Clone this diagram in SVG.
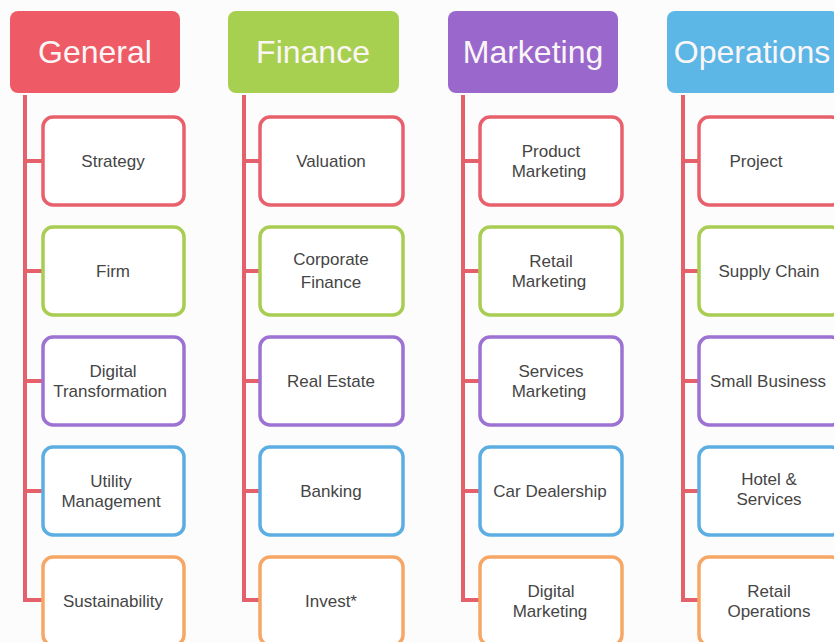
<svg xmlns="http://www.w3.org/2000/svg" width="834" height="642" viewBox="0 0 834 642">
<style>
.hdr{font-family:"Liberation Sans",Arial,sans-serif;font-size:32px;fill:#fbf6f6;text-anchor:middle}
.lbl{font-family:"Liberation Sans",Arial,sans-serif;font-size:17px;fill:#454545;text-anchor:middle}
.box{fill:#fff;stroke-width:3.5}
.r{stroke:#e8606c}.g{stroke:#a9cd52}.p{stroke:#9c72d2}.b{stroke:#5caee2}.o{stroke:#f6a765}
.link{fill:none;stroke:#e4606b;stroke-width:4}
</style>
<rect width="834" height="642" fill="#fcfcfc"/>
<g id="connectors">
<path class="link" d="M25 95V600H43M25 161H43M25 271H43M25 381H43M25 491H43"/>
<path class="link" d="M244 95V600H259M244 161H259M244 271H259M244 381H259M244 491H259"/>
<path class="link" d="M463 95V600H480M463 161H480M463 271H480M463 381H480M463 491H480"/>
<path class="link" d="M683 95V600H698M683 161H698M683 271H698M683 381H698M683 491H698"/>
</g>
<g id="general"><rect x="10" y="11" width="170" height="82" rx="8" fill="#ee5b66"/><text class="hdr" x="95" y="63">General</text></g>
<g id="finance"><rect x="228" y="11" width="171" height="82" rx="8" fill="#a8d050"/><text class="hdr" x="313" y="63">Finance</text></g>
<g id="marketing"><rect x="448" y="11" width="170" height="82" rx="8" fill="#9a68cc"/><text class="hdr" x="533" y="63">Marketing</text></g>
<g id="operations"><rect x="667" y="11" width="172" height="82" rx="8" fill="#5cb6e6"/><text class="hdr" x="752" y="63">Operations</text></g>

<g id="strategy"><rect class="box r" x="43" y="117" width="141" height="88" rx="10"/><text class="lbl" x="113" y="167">Strategy</text></g>
<g id="firm"><rect class="box g" x="43" y="227" width="141" height="88" rx="10"/><text class="lbl" x="113" y="277">Firm</text></g>
<g id="digital-transformation"><rect class="box p" x="43" y="337" width="141" height="88" rx="10"/><text class="lbl" x="113" y="377">Digital</text><text class="lbl" x="110" y="397">Transformation</text></g>
<g id="utility-management"><rect class="box b" x="43" y="447" width="141" height="88" rx="10"/><text class="lbl" x="111" y="487">Utility</text><text class="lbl" x="111" y="507">Management</text></g>
<g id="sustainability"><rect class="box o" x="43" y="557" width="141" height="88" rx="10"/><text class="lbl" x="113" y="607">Sustainability</text></g>

<g id="valuation"><rect class="box r" x="260" y="117" width="143" height="88" rx="10"/><text class="lbl" x="331" y="167">Valuation</text></g>
<g id="corporate-finance"><rect class="box g" x="260" y="227" width="143" height="88" rx="10"/><text class="lbl" x="331" y="265">Corporate</text><text class="lbl" x="331" y="288">Finance</text></g>
<g id="real-estate"><rect class="box p" x="260" y="337" width="143" height="88" rx="10"/><text class="lbl" x="331" y="387">Real Estate</text></g>
<g id="banking"><rect class="box b" x="260" y="447" width="143" height="88" rx="10"/><text class="lbl" x="331" y="497">Banking</text></g>
<g id="invest"><rect class="box o" x="260" y="557" width="143" height="88" rx="10"/><text class="lbl" x="331" y="607">Invest*</text></g>

<g id="product-marketing"><rect class="box r" x="480" y="117" width="142" height="88" rx="10"/><text class="lbl" x="551" y="157">Product</text><text class="lbl" x="549" y="177">Marketing</text></g>
<g id="retail-marketing"><rect class="box g" x="480" y="227" width="142" height="88" rx="10"/><text class="lbl" x="551" y="267">Retail</text><text class="lbl" x="549" y="287">Marketing</text></g>
<g id="services-marketing"><rect class="box p" x="480" y="337" width="142" height="88" rx="10"/><text class="lbl" x="551" y="377">Services</text><text class="lbl" x="549" y="397">Marketing</text></g>
<g id="car-dealership"><rect class="box b" x="480" y="447" width="142" height="88" rx="10"/><text class="lbl" x="550" y="497">Car Dealership</text></g>
<g id="digital-marketing"><rect class="box o" x="480" y="557" width="142" height="88" rx="10"/><text class="lbl" x="551" y="597">Digital</text><text class="lbl" x="550" y="617">Marketing</text></g>

<g id="project"><rect class="box r" x="699" y="117" width="142" height="88" rx="10"/><text class="lbl" x="756" y="167">Project</text></g>
<g id="supply-chain"><rect class="box g" x="699" y="227" width="142" height="88" rx="10"/><text class="lbl" x="769" y="277">Supply Chain</text></g>
<g id="small-business"><rect class="box p" x="699" y="337" width="142" height="88" rx="10"/><text class="lbl" x="768" y="387">Small Business</text></g>
<g id="hotel-services"><rect class="box b" x="699" y="447" width="142" height="88" rx="10"/><text class="lbl" x="769" y="485">Hotel &amp;</text><text class="lbl" x="769" y="505">Services</text></g>
<g id="retail-operations"><rect class="box o" x="699" y="557" width="142" height="88" rx="10"/><text class="lbl" x="769" y="597">Retail</text><text class="lbl" x="769" y="617">Operations</text></g>
</svg>
